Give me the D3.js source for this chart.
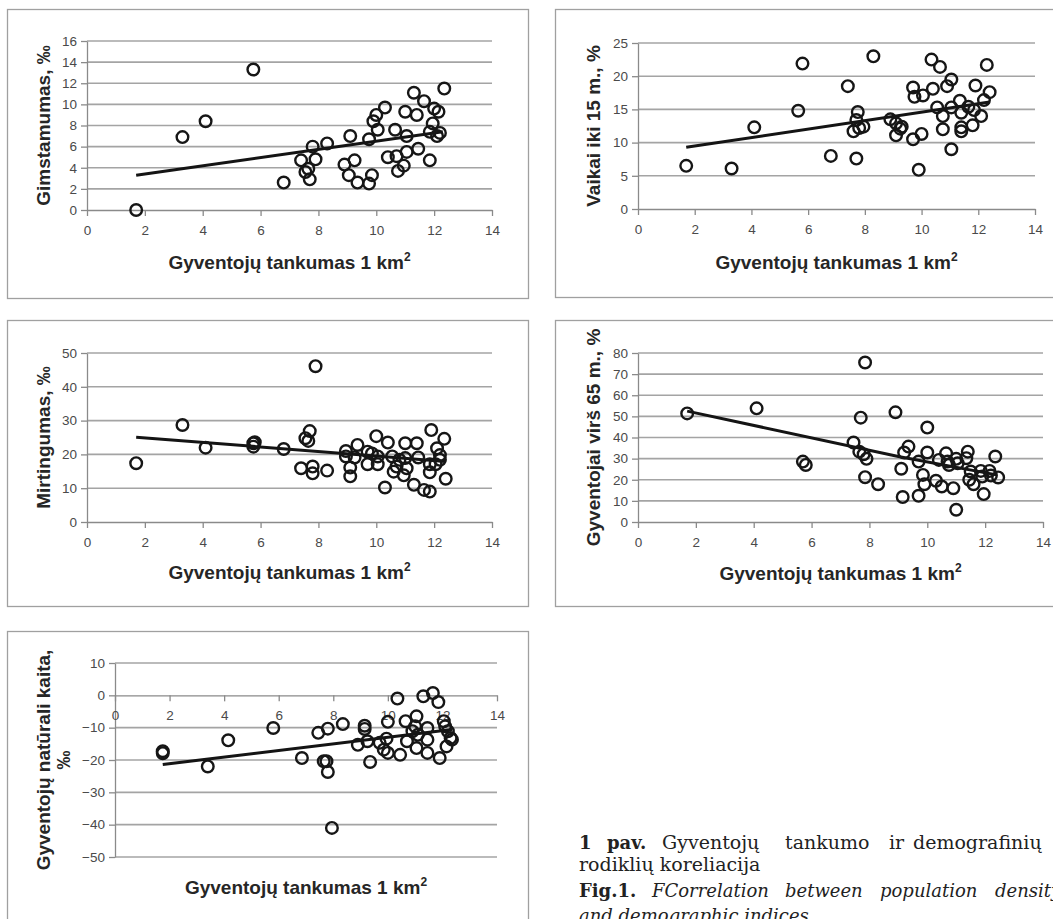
<!DOCTYPE html>
<html>
<head>
<meta charset="utf-8">
<style>
body { margin: 0; background: #fff; }
.tick text { font-family: "Liberation Sans", Arial, sans-serif; font-size: 13.5px; fill: #4a4a4a; }
.axis .domain, .axis .tick line { stroke: #8a8a8a; stroke-width: 1.3; }
.grid line { stroke: #a4a4a4; stroke-width: 1.6; }
.title { font-family: "Liberation Sans", Arial, sans-serif; font-weight: bold; font-size: 19px; fill: #262626; }
.caption { font-family: "DejaVu Serif", serif; font-size: 19px; fill: #222; }
.caption .b { font-weight: bold; font-size: 18px; }
.caption .i { font-style: italic; font-size: 18px; }
</style>
</head>
<body>
<script src="https://d3js.org/d3.v7.min.js"></script>
<script>

// x: population density (same scale on every panel)
var xTicks = [0, 2, 4, 6, 8, 10, 12, 14];

// Gimstamumas, ‰
var birthRate = [[1.7,0],[3.3,6.9],[4.1,8.4],[5.75,13.3],[6.8,2.6],[7.4,4.7],[7.55,3.6],[7.65,3.9],
  [7.7,2.9],[7.8,6.0],[7.9,4.8],[8.3,6.3],[8.9,4.3],[9.1,7.0],[9.05,3.3],[9.25,4.7],[9.35,2.6],
  [9.75,6.7],[9.75,2.5],[9.85,3.3],[9.9,8.4],[10.0,9.0],[10.05,7.6],[10.3,9.7],[10.4,5.0],
  [10.65,7.6],[10.7,5.1],[10.75,3.7],[10.95,4.2],[11.0,9.3],[11.05,7.0],[11.05,5.5],[11.3,11.1],
  [11.4,9.0],[11.45,5.8],[11.65,10.3],[11.85,4.7],[11.85,7.4],[11.95,8.2],[12.0,9.6],[12.15,9.3],
  [12.1,7.0],[12.2,7.3],[12.35,11.5]];
var birthTrend = [[1.7,3.3],[12.3,7.4]];

// Vaikai iki 15 m., %
var children = [[1.7,6.5],[3.3,6.1],[4.1,12.3],[5.65,14.8],[5.8,21.9],[6.8,8.0],[7.4,18.5],
  [7.6,11.7],[7.7,7.6],[7.75,14.6],[7.7,13.4],[7.8,12.2],[7.95,12.4],[8.3,23.0],[8.9,13.5],
  [9.1,11.1],[9.1,12.9],[9.25,12.1],[9.3,12.4],[9.7,18.3],[9.75,16.9],[9.7,10.5],[9.9,5.9],
  [10.0,11.3],[10.05,17.1],[10.35,22.5],[10.4,18.1],[10.55,15.3],[10.65,21.4],[10.75,14.0],
  [10.75,12.0],[10.9,18.5],[11.05,19.5],[11.05,15.3],[11.05,9.0],[11.35,16.3],[11.4,12.3],
  [11.4,11.7],[11.4,14.5],[11.65,15.4],[11.8,12.6],[11.85,14.9],[11.9,18.6],[12.1,14.0],
  [12.2,16.4],[12.3,21.7],[12.4,17.6]];
var childrenTrend = [[1.7,9.3],[12.4,16.1]];

// Mirtingumas, ‰
var deathRate = [[1.7,17.4],[3.3,28.7],[4.1,22.0],[5.75,23.3],[5.8,23.6],[5.75,22.3],[6.8,21.6],
  [7.4,15.9],[7.55,24.8],[7.7,26.9],[7.65,24.0],[7.8,16.4],[7.8,14.4],[7.9,46.1],[8.3,15.2],
  [8.95,21.0],[8.95,19.4],[9.1,16.1],[9.1,13.5],[9.25,19.1],[9.35,22.8],[9.7,20.8],[9.7,17.1],
  [9.85,20.3],[10.0,25.4],[10.05,17.1],[10.05,19.4],[10.3,10.2],[10.4,23.5],[10.55,19.4],
  [10.6,14.9],[10.7,16.4],[10.8,18.4],[10.95,13.8],[11.0,23.3],[11.0,18.9],[11.05,15.9],
  [11.3,11.0],[11.4,23.3],[11.45,19.1],[11.65,9.5],[11.85,9.0],[11.9,27.2],[11.85,14.7],
  [11.85,17.1],[12.05,17.1],[12.1,21.8],[12.2,19.8],[12.2,18.4],[12.35,24.6],[12.4,12.8]];
var deathTrend = [[1.7,25.1],[12.4,17.9]];

// Gyventojai virš 65 m., %
var elderly = [[1.7,51.4],[4.1,53.8],[5.7,28.6],[5.8,27.0],[7.45,37.6],[7.7,49.4],[7.65,33.3],
  [7.8,32.1],[7.85,75.5],[7.85,21.2],[7.9,29.9],[8.3,17.9],[8.9,51.9],[9.1,25.2],[9.15,11.8],
  [9.2,32.9],[9.35,35.7],[9.7,28.6],[9.7,12.4],[9.85,22.3],[9.9,17.9],[10.0,44.7],[10.0,32.9],
  [10.3,19.5],[10.4,29.4],[10.5,16.8],[10.65,32.5],[10.7,28.6],[10.75,27.0],[10.9,16.0],
  [11.0,29.9],[11.0,5.8],[11.05,27.8],[11.4,33.3],[11.35,30.2],[11.45,20.0],[11.5,23.9],
  [11.6,17.9],[11.85,24.2],[11.9,21.5],[11.95,13.2],[12.15,24.2],[12.2,22.0],[12.35,31.0],
  [12.45,21.1]];
var elderlyTrend = [[1.7,52.5],[9.0,31.0],[12.4,22.3]];

// Gyventojų natūrali kaita, ‰
var naturalChange = [[1.75,-17.3],[1.75,-17.9],[3.4,-22.0],[4.15,-13.9],[5.8,-10.1],[6.85,-19.4],
  [7.45,-11.6],[7.65,-20.4],[7.75,-20.4],[7.8,-10.3],[7.8,-23.7],[7.95,-41.0],[8.35,-8.9],
  [8.9,-15.3],[9.15,-9.4],[9.15,-10.4],[9.25,-14.2],[9.35,-20.6],[9.7,-14.7],[9.85,-16.8],
  [9.95,-13.4],[10.0,-8.2],[10.0,-17.8],[10.35,-1.0],[10.45,-18.4],[10.65,-8.0],[10.7,-14.2],
  [10.9,-11.1],[11.0,-9.6],[11.05,-6.5],[11.05,-16.3],[11.1,-12.2],[11.3,-0.3],[11.45,-10.1],
  [11.45,-13.7],[11.45,-17.8],[11.65,0.7],[11.85,-2.1],[11.9,-19.4],[12.05,-8.0],[12.1,-9.6],
  [12.15,-15.8],[12.2,-11.1],[12.3,-13.2],[12.35,-13.7]];
var naturalTrend = [[1.75,-21.4],[12.35,-10.6]];

var xTitle = "Gyventojų tankumas 1 km";

var panels = [
  {pts: birthRate, trend: birthTrend, yTicks: d3.range(0, 17, 2), yTitle: ["Gimstamumas, ‰"],
   frame: [7, 9, 521, 289], plot: [87, 492, 41, 210], yTitleX: 50, xTitleY: 269},
  {pts: children, trend: childrenTrend, yTicks: d3.range(0, 26, 5), yTitle: ["Vaikai iki 15 m., %"],
   frame: [555, 9, 520, 288], plot: [638, 1035, 43, 209], yTitleX: 600, xTitleY: 269},
  {pts: deathRate, trend: deathTrend, yTicks: d3.range(0, 51, 10), yTitle: ["Mirtingumas, ‰"],
   frame: [7, 320, 521, 286], plot: [87, 492, 353, 522], yTitleX: 50, xTitleY: 579},
  {pts: elderly, trend: elderlyTrend, yTicks: d3.range(0, 81, 10), yTitle: ["Gyventojai virš 65 m., %"],
   frame: [555, 320, 520, 286], plot: [638, 1043, 353, 522], yTitleX: 600, xTitleY: 580},
  {pts: naturalChange, trend: naturalTrend, yTicks: d3.range(-50, 11, 10), yTitle: ["Gyventojų natūrali kaita,", "‰"],
   frame: [7, 631, 521, 310], plot: [115, 497, 663, 857], yTitleX: 50, xTitleY: 894}
];

var svg = d3.select("body").append("svg")
    .attr("width", 1053)
    .attr("height", 919);

panels.forEach(function(p) {
  var g = svg.append("g");
  var left = p.plot[0], right = p.plot[1], top = p.plot[2], bottom = p.plot[3];

  g.append("rect")
      .attr("x", p.frame[0] + 0.5).attr("y", p.frame[1] + 0.5)
      .attr("width", p.frame[2]).attr("height", p.frame[3])
      .attr("fill", "#fff").attr("stroke", "#a0a0a0").attr("stroke-width", 1.3);

  var x = d3.scaleLinear().domain([0, 14]).range([left, right]);
  var y = d3.scaleLinear().domain(d3.extent(p.yTicks)).range([bottom, top]);

  g.append("g")
      .attr("class", "grid")
    .selectAll("line")
    .data(p.yTicks.filter(function(d) { return d !== 0; }))
    .enter().append("line")
      .attr("x1", left).attr("x2", right)
      .attr("y1", function(d) { return y(d); })
      .attr("y2", function(d) { return y(d); });

  g.append("g")
      .attr("class", "axis")
      .attr("transform", "translate(" + left + ",0)")
      .call(d3.axisLeft(y).tickValues(p.yTicks).tickSize(6).tickSizeOuter(0).tickPadding(4));

  g.append("g")
      .attr("class", "axis")
      .attr("transform", "translate(0," + y(0) + ")")
      .call(d3.axisBottom(x).tickValues(xTicks).tickSize(6).tickSizeOuter(0).tickPadding(9));

  g.append("path")
      .datum(p.trend)
      .attr("fill", "none")
      .attr("stroke", "#141414")
      .attr("stroke-width", 3)
      .attr("d", d3.line().x(function(d) { return x(d[0]); }).y(function(d) { return y(d[1]); }));

  g.append("g")
    .selectAll("circle")
    .data(p.pts)
    .enter().append("circle")
      .attr("cx", function(d) { return x(d[0]); })
      .attr("cy", function(d) { return y(d[1]); })
      .attr("r", 5.8)
      .attr("fill", "none")
      .attr("stroke", "#161616")
      .attr("stroke-width", 2.4);

  var xt = g.append("text")
      .attr("class", "title")
      .attr("x", (left + right) / 2)
      .attr("y", p.xTitleY)
      .attr("text-anchor", "middle");
  xt.append("tspan").text(xTitle);
  xt.append("tspan").attr("font-size", "12px").attr("dy", -8).text("2");

  var cy = (top + bottom) / 2;
  p.yTitle.forEach(function(line, i) {
    g.append("text")
        .attr("class", "title")
        .attr("transform", "translate(" + (p.yTitleX + i * 20) + "," + cy + ") rotate(-90)")
        .attr("text-anchor", "middle")
        .text(line);
  });
});

// caption (justified lines, words placed as in the print)
var cap = svg.append("g").attr("class", "caption");
var l1 = cap.append("text").attr("y", 849);
l1.append("tspan").attr("x", 579).attr("class", "b").text("1");
l1.append("tspan").attr("x", 607).attr("class", "b").text("pav.");
l1.append("tspan").attr("x", 662).text("Gyventojų");
l1.append("tspan").attr("x", 785).text("tankumo");
l1.append("tspan").attr("x", 889).text("ir");
l1.append("tspan").attr("x", 913).text("demografinių");
cap.append("text").attr("x", 579).attr("y", 871).text("rodiklių koreliacija");
var l3 = cap.append("text").attr("y", 897);
l3.append("tspan").attr("x", 579).attr("class", "b").text("Fig.1.");
l3.append("tspan").attr("x", 652).attr("class", "i").text("FCorrelation");
l3.append("tspan").attr("x", 785).attr("class", "i").text("between");
l3.append("tspan").attr("x", 880).attr("class", "i").text("population");
l3.append("tspan").attr("x", 995).attr("class", "i").text("density");
cap.append("text").attr("x", 579).attr("y", 922).attr("class", "i").text("and demographic indices.");

</script>
</body>
</html>
